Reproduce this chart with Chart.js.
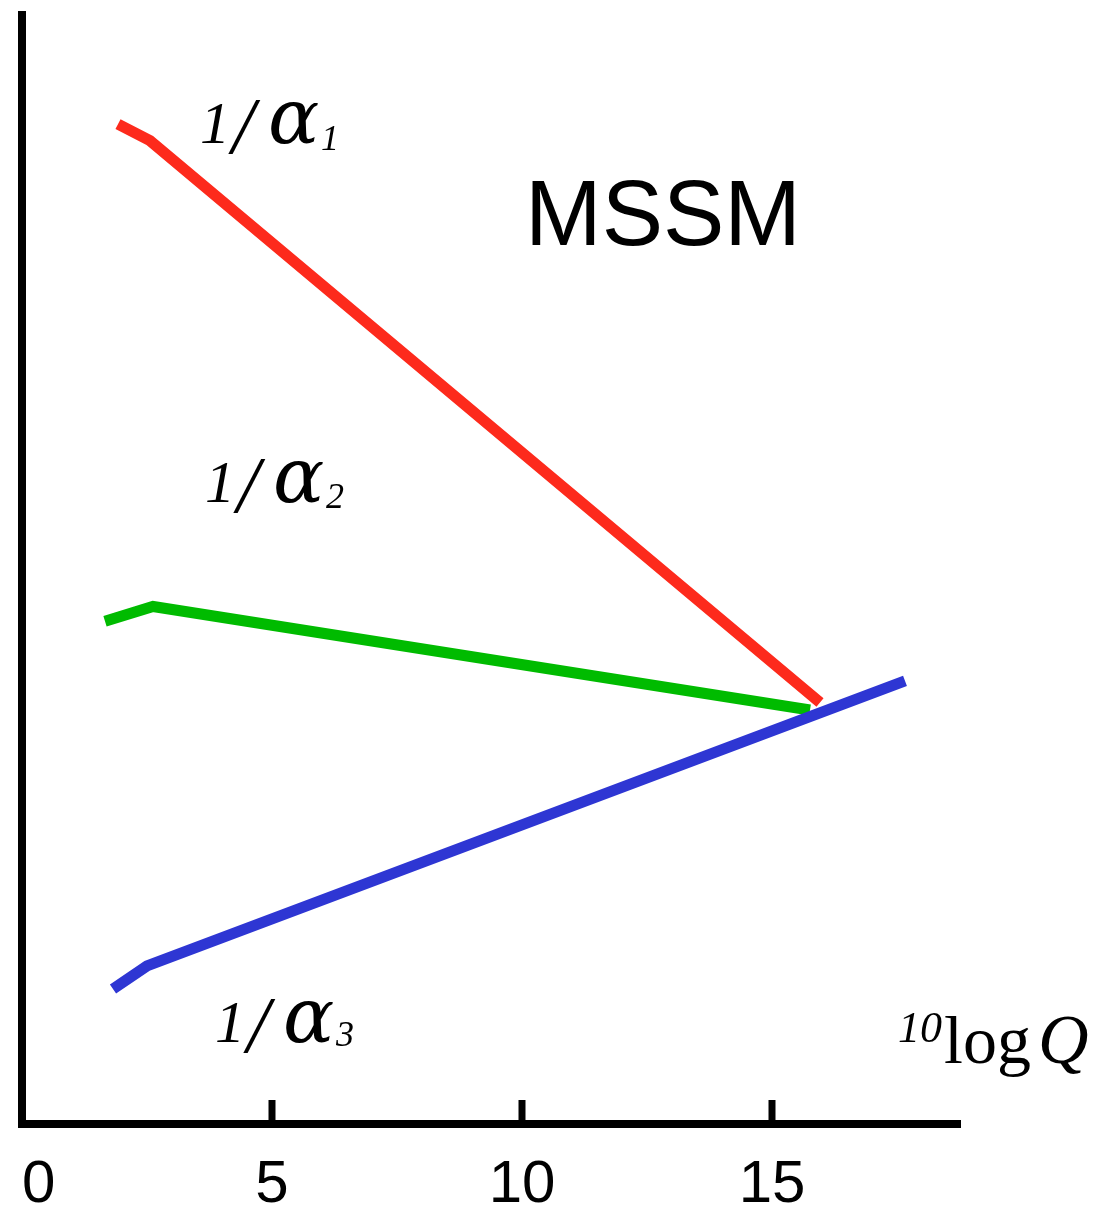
<!DOCTYPE html>
<html>
<head>
<meta charset="utf-8">
<script src="https://cdn.jsdelivr.net/npm/chart.js@4.4.1/dist/chart.umd.min.js"></script>
<style>
  html, body { margin: 0; padding: 0; background: #ffffff; }
  #wrap { width: 1101px; height: 1214px; }
</style>
</head>
<body>
<div id="wrap"><canvas id="c" width="1101" height="1214"></canvas></div>
<script>
// ---- data (x = log10 Q, y = 1/alpha) ----
const xTickValues = [0, 5, 10, 15];
const xTickLabels = ['  0', '5', '10', '15'];
const alpha1Inv = [ {x: 1.92, y: 54.1}, {x: 2.56, y: 53.2}, {x: 15.96, y: 22.8} ];
const alpha2Inv = [ {x: 1.66, y: 27.2}, {x: 2.62, y: 28.0}, {x: 15.76, y: 22.4} ];
const alpha3Inv = [ {x: 1.82, y: 7.3},  {x: 2.50, y: 8.55}, {x: 17.66, y: 23.97} ];
const seriesNames = ['1/α1', '1/α2', '1/α3'];
const xMin = 0, xMax = 18.76, yMin = 0, yMax = 60;

const labelsPlugin = {
  id: 'labelsPlugin',
  afterDraw(chart) {
    const ctx = chart.ctx;
    const xs = chart.scales.x;
    const area = chart.chartArea;
    ctx.save();
    ctx.fillStyle = '#000';
    ctx.textBaseline = 'alphabetic';
    ctx.textAlign = 'left';
    // inward tick marks at 5, 10, 15
    ctx.strokeStyle = '#000';
    ctx.lineWidth = 7;
    xTickValues.filter(v => v > 0).forEach(v => {
      const px = xs.getPixelForValue(v);
      ctx.beginPath();
      ctx.moveTo(px, area.bottom);
      ctx.lineTo(px, area.bottom - 24);
      ctx.stroke();
    });
    // series labels 1/alpha_i
    const serif = "'Liberation Serif', 'DejaVu Serif', serif";
    const dserif = "'DejaVu Serif', 'Liberation Serif', serif";
    const drawInv = (x0, base, sub, subBase) => {
      ctx.font = 'italic 60px ' + serif;
      ctx.fillText('1', x0, base);
      ctx.font = 'italic 80px ' + serif;
      ctx.fillText('/', x0 + 32, base + 10);
      ctx.font = 'italic 76px ' + dserif;
      ctx.fillText('α', x0 + 68, base);
      ctx.font = 'italic 36px ' + serif;
      ctx.fillText(sub, x0 + 121, subBase);
    };
    drawInv(200, 143, '1', 150);
    drawInv(205, 502, '2', 508);
    drawInv(215, 1042, '3', 1046);
    // MSSM
    ctx.font = "92px 'Liberation Sans', Arial, sans-serif";
    ctx.fillText('MSSM', 525, 245);
    // axis title 10 log Q
    ctx.font = 'italic 44px ' + serif;
    ctx.fillText('10', 898, 1042);
    ctx.font = '68px ' + serif;
    ctx.fillText('log', 944, 1063);
    ctx.font = 'italic 70px ' + serif;
    ctx.fillText('Q', 1038, 1063);
    ctx.restore();
  }
};

new Chart(document.getElementById('c'), {
  type: 'line',
  data: {
    datasets: [
      { label: seriesNames[0], data: alpha1Inv, borderColor: '#fd2a1c', order: 2 },
      { label: seriesNames[1], data: alpha2Inv, borderColor: '#00bb00', order: 1 },
      { label: seriesNames[2], data: alpha3Inv, borderColor: '#2e36d3', order: 0 }
    ]
  },
  options: {
    responsive: false,
    animation: false,
    events: [],
    layout: { padding: { left: 22, top: 15, right: 141, bottom: 0 } },
    elements: {
      line: { borderWidth: 11, tension: 0, fill: false, borderCapStyle: 'butt', borderJoinStyle: 'miter' },
      point: { radius: 0 }
    },
    plugins: { legend: { display: false }, tooltip: { enabled: false } },
    scales: {
      x: {
        type: 'linear', min: xMin, max: xMax,
        afterBuildTicks: s => { s.ticks = xTickValues.map(v => ({ value: v })); },
        afterFit: s => { s.paddingLeft = 0; s.paddingRight = 0; s.height = 90; },
        grid: { display: false, drawTicks: false },
        border: { display: true, color: '#000', width: 8 },
        ticks: {
          color: '#000', padding: 31, maxRotation: 0, autoSkip: false,
          callback: (v) => xTickLabels[xTickValues.indexOf(v)],
          font: { family: "'Liberation Sans Narrow', 'Liberation Sans', Arial, sans-serif", size: 60, lineHeight: 1 }
        }
      },
      y: {
        type: 'linear', min: yMin, max: yMax,
        afterFit: s => { s.width = 0; s.paddingTop = 0; s.paddingBottom = 0; },
        grid: { display: false, drawTicks: false },
        border: { display: true, color: '#000', width: 8 },
        ticks: { display: false }
      }
    }
  },
  plugins: [labelsPlugin]
});
</script>
</body>
</html>
